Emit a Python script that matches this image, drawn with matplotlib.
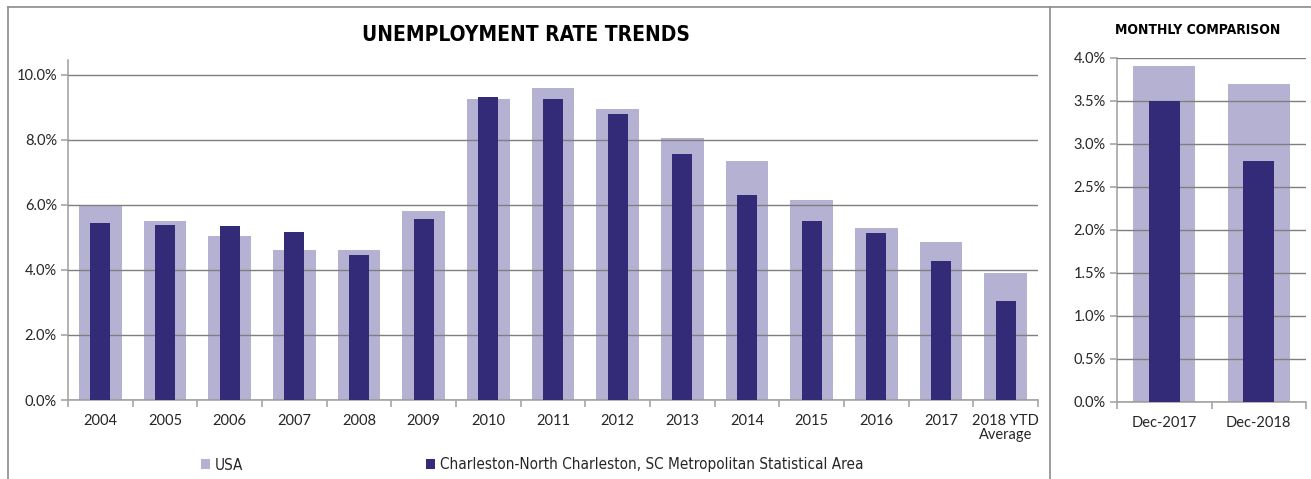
import matplotlib
matplotlib.use("Agg")
import matplotlib.pyplot as plt
from matplotlib.lines import Line2D
from matplotlib.patches import Patch
from matplotlib.ticker import FuncFormatter, FixedLocator
from matplotlib.font_manager import FontProperties
import numpy as np

plt.rcParams['font.family'] = ['Lato', 'DejaVu Sans']

# ---- data ----
years = ["2004", "2005", "2006", "2007", "2008", "2009", "2010", "2011",
         "2012", "2013", "2014", "2015", "2016", "2017", "2018 YTD\nAverage"]
usa = [6.0, 5.5, 5.05, 4.6, 4.6, 5.8, 9.25, 9.6, 8.95, 8.05, 7.35, 6.15, 5.3, 4.85, 3.9]
charleston = [5.43, 5.37, 5.34, 5.15, 4.45, 5.55, 9.32, 9.25, 8.78, 7.57, 6.31, 5.5, 5.13, 4.27, 3.05]

months = ["Dec-2017", "Dec-2018"]
usa_month = [3.9, 3.7]
charleston_month = [3.5, 2.8]

series_names = ["USA", "Charleston-North Charleston, SC Metropolitan Statistical Area"]
title_left = "UNEMPLOYMENT RATE TRENDS"
title_right = "MONTHLY COMPARISON"

LIGHT = "#B4B1D3"
DARK = "#332B78"
GRID = "#7F7F7F"
SPINE = "#A6A6A6"
TXT = "#262626"

fig = plt.figure(figsize=(13.11, 4.79), dpi=100)
W, H = 1311, 479


def cond(size, weight="normal"):
    return FontProperties(family="DejaVu Sans", stretch="condensed",
                          size=size, weight=weight)


def px_axes(x0, x1, ytop, ybot):
    return fig.add_axes([x0 / W, 1 - ybot / H, (x1 - x0) / W, (ybot - ytop) / H])


def style(ax, n, ymax, ystep, fmt):
    ax.set_xlim(-0.5, n - 0.5)
    ax.set_ylim(0, ymax)
    ax.set_yticks(np.arange(0, ymax + 1e-9, ystep))
    ax.yaxis.set_major_formatter(FuncFormatter(lambda v, p: fmt.format(v)))
    ax.set_axisbelow(False)
    ax.yaxis.grid(True, color=GRID, lw=1.0)
    ax.xaxis.grid(False)
    for s in ["top", "right"]:
        ax.spines[s].set_visible(False)
    for s in ["left", "bottom"]:
        ax.spines[s].set_color(SPINE)
        ax.spines[s].set_linewidth(1.2)
    ax.tick_params(axis="y", length=5, color=SPINE, width=1.2, labelsize=10.5,
                   labelcolor=TXT, pad=3)
    ax.tick_params(axis="x", which="major", length=0, labelsize=10.5,
                   labelcolor=TXT, pad=10)
    ax.xaxis.set_minor_locator(FixedLocator(np.arange(-0.5, n, 1.0)))
    ax.tick_params(axis="x", which="minor", length=5, color=SPINE, width=1.2,
                   direction="out")


# ---- left chart ----
ax = px_axes(68, 1038, 60, 400)
x = np.arange(len(years))
ax.bar(x, usa, width=0.66, color=LIGHT, zorder=1)
ax.bar(x, charleston, width=0.31, color=DARK, zorder=3)
style(ax, len(years), 10.45, 2.0, "{:.1f}%")
ax.set_xticks(x)
ax.set_xticklabels(years, linespacing=1.0)
fig.text(526 / W, 1 - 35 / H, title_left, ha="center", va="center",
         fontproperties=cond(15, "bold"), color="black")

# ---- right chart ----
ax2 = px_axes(1117, 1306, 57.7, 401.7)
x2 = np.arange(len(months))
ax2.bar(x2, usa_month, width=0.66, color=LIGHT, zorder=1)
ax2.bar(x2, charleston_month, width=0.325, color=DARK, zorder=3)
style(ax2, len(months), 4.0, 0.5, "{:.1f}%")
ax2.set_xticks(x2)
ax2.set_xticklabels(months)
fig.text(1198 / W, 1 - 30 / H, title_right, ha="center", va="center",
         fontproperties=cond(10, "bold"), color="black")

# ---- legend ----
handles = [Patch(facecolor=LIGHT), Patch(facecolor=DARK)]
leg = fig.legend(handles, series_names, loc="center left",
                 bbox_to_anchor=(187 / W, 1 - 465 / H), ncol=2, frameon=False,
                 handlelength=0.6, handleheight=0.6, handletextpad=0.3,
                 columnspacing=12.0, prop=cond(11))
for t in leg.get_texts():
    t.set_color(TXT)

# ---- frame lines ----
fc = "#8C8C8C"
fig.add_artist(Line2D([8 / W, 8 / W], [0, 1 - 7 / H], color=fc, lw=1.2))
fig.add_artist(Line2D([8 / W, 1], [1 - 7 / H, 1 - 7 / H], color=fc, lw=1.2))
fig.add_artist(Line2D([1050 / W, 1050 / W], [0, 1 - 7 / H], color=fc, lw=1.2))

fig.savefig("out.png", dpi=100, facecolor="white")
